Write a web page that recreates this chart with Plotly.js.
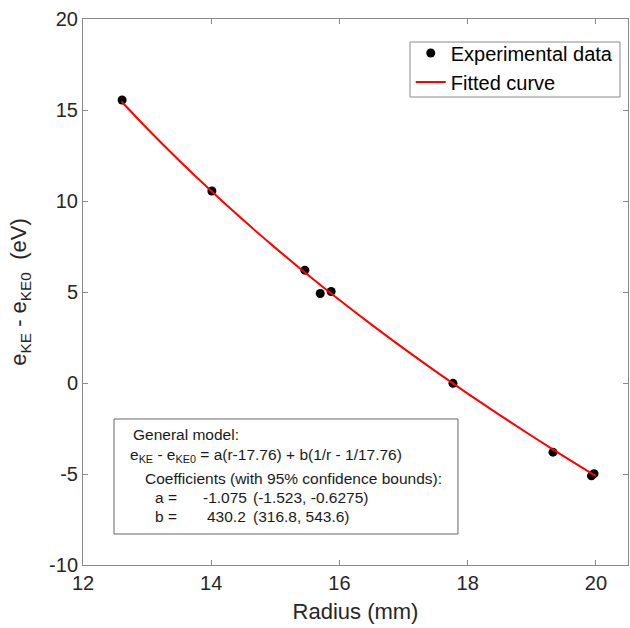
<!DOCTYPE html>
<html>
<head>
<meta charset="utf-8">
<script src="https://cdn.plot.ly/plotly-3.0.1.min.js"></script>
<style>html,body{margin:0;padding:0;background:#fff;}</style>
</head>
<body>
<div id="chart" style="width:630px;height:628px;"></div>
<script>
const expRadius = [12.61, 14.01, 15.46, 15.70, 15.87, 17.77, 19.33, 19.93, 19.97];
const expEnergy = [15.55, 10.55, 6.20, 4.92, 5.03, -0.02, -3.80, -5.10, -4.98];

// Fitted curve samples (model shown in the box, a=-1.075, b=430.2)
const curveRadius = [12.6, 13, 13.5, 14, 14.5, 15, 15.5, 16, 16.5, 17, 17.5, 18, 18.5, 19, 19.5, 20];
const curveEnergy = [15.467, 13.986, 12.224, 10.548, 8.951, 7.424, 5.962, 4.557, 3.205, 1.900, 0.640, -0.581, -1.765, -2.914, -4.032, -5.121];

const xTicks = [12, 14, 16, 18, 20];
const yTicks = [-10, -5, 0, 5, 10, 15, 20];

const font = 'Liberation Sans, Arial, sans-serif';
const axisColor = '#8a8a8a';

const traces = [
  {
    x: expRadius, y: expEnergy, type: 'scatter', mode: 'markers',
    name: 'Experimental data',
    marker: {color: '#000', size: 9}
  },
  {
    x: curveRadius, y: curveEnergy, type: 'scatter', mode: 'lines',
    name: 'Fitted curve',
    line: {color: '#ff0000', width: 2, shape: 'spline'}
  }
];

const annFont = {family: font, size: 15.5, color: '#1a1a1a'};
function ann(text, x, y) {
  return {text: text, x: x, y: y, xref: 'paper', yref: 'paper', xanchor: 'left', yanchor: 'middle',
          showarrow: false, font: annFont, align: 'left'};
}

const layout = {
  width: 630, height: 628,
  margin: {l: 83, r: 2, t: 19, b: 63},
  paper_bgcolor: '#fff', plot_bgcolor: '#fff',
  showlegend: true,
  font: {family: font, color: '#262626'},
  xaxis: {
    range: [12, 20.5], tickvals: xTicks, ticktext: xTicks.map(String),
    ticks: 'inside', ticklen: 5, tickcolor: axisColor,
    showline: true, linecolor: axisColor, linewidth: 1, mirror: 'ticks',
    showgrid: false, zeroline: false,
    tickfont: {family: font, size: 20, color: '#262626'},
    title: {text: 'Radius (mm)', font: {family: font, size: 22, color: '#262626'}, standoff: 10}
  },
  yaxis: {
    range: [-10, 20], tickvals: yTicks, ticktext: yTicks.map(String),
    ticks: 'inside', ticklen: 5, tickcolor: axisColor,
    showline: true, linecolor: axisColor, linewidth: 1, mirror: 'ticks',
    showgrid: false, zeroline: false,
    tickfont: {family: font, size: 20, color: '#262626'},
    title: {text: 'e<sub>KE</sub> - e<sub>KE0</sub>  (eV)', font: {family: font, size: 22, color: '#262626'}, standoff: 16}
  },
  legend: {
    x: 0.983, y: 0.9734, xanchor: 'right', yanchor: 'top',
    bgcolor: 'rgba(0,0,0,0)', borderwidth: 0,
    font: {family: font, size: 20, color: '#000'},
    tracegroupgap: 0
  },
  shapes: [
    // legend frame
    {type: 'rect', xref: 'paper', yref: 'paper', x0: (410-83)/545, x1: (620-83)/545, y0: (565-97)/546, y1: (565-42)/546,
     line: {color: '#8a8a8a', width: 1}, fillcolor: '#fff', layer: 'below'},
    // model text frame
    {type: 'rect', xref: 'paper', yref: 'paper', x0: 0.0569, x1: 0.688, y0: 0.0568, y1: 0.2674,
     line: {color: '#666', width: 1}, fillcolor: '#fff', layer: 'above'}
  ],
  annotations: [
    ann('General model:', 0.0881, 0.2399),
    ann('e<sub>KE</sub> - e<sub>KE0</sub> = a(r-17.76) + b(1/r - 1/17.76)', 0.0826, 0.2010),
    ann('Coefficients (with 95% confidence bounds):', 0.1101, 0.1593),
    ann('a =', 0.1284, 0.1245),
    ann('-1.075', 0.2165, 0.1245),
    ann('(-1.523, -0.6275)', 0.3083, 0.1245),
    ann('b =', 0.1284, 0.0897),
    ann('430.2', 0.2239, 0.0897),
    ann('(316.8, 543.6)', 0.3083, 0.0897)
  ]
};

Plotly.newPlot('chart', traces, layout, {displayModeBar: false, staticPlot: true});
</script>
</body>
</html>
